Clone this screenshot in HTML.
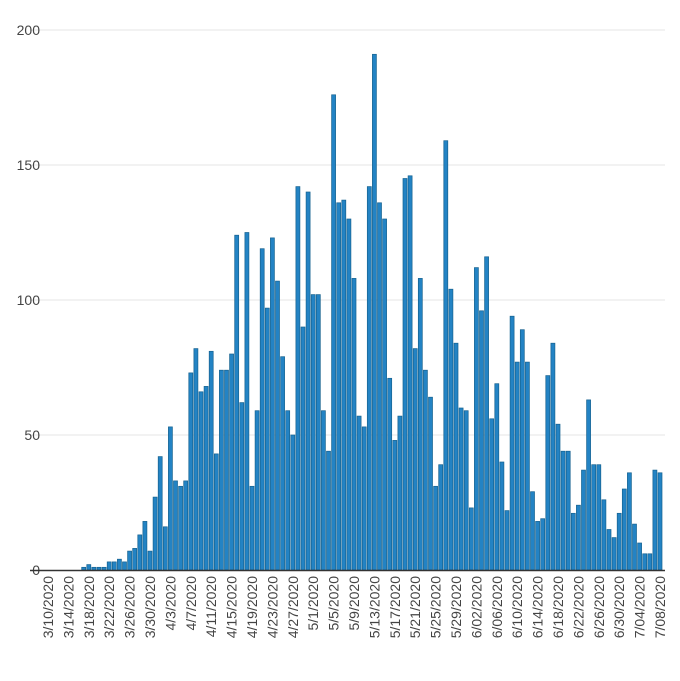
<!DOCTYPE html>
<html><head><meta charset="utf-8"><style>
body{margin:0;background:#fff;font-family:"Liberation Sans",sans-serif}
</style></head><body>
<svg id="chart" width="680" height="676" xmlns="http://www.w3.org/2000/svg"></svg>
<script>
const startLabel = "3/10/2020";
const values = [0,0,0,0,0,0,0,1,2,1,1,1,3,3,4,3,7,8,13,18,7,27,42,16,53,33,31,33,73,82,66,68,81,43,74,74,80,124,62,125,31,59,119,97,123,107,79,59,50,142,90,140,102,102,59,44,176,136,137,130,108,57,53,142,191,136,130,71,48,57,145,146,82,108,74,64,31,39,159,104,84,60,59,23,112,96,116,56,69,40,22,94,77,89,77,29,18,19,72,84,54,44,44,21,24,37,63,39,39,26,15,12,21,30,36,17,10,6,6,37,36];
const tickLabels = ["3/10/2020","3/14/2020","3/18/2020","3/22/2020","3/26/2020","3/30/2020","4/3/2020","4/7/2020","4/11/2020","4/15/2020","4/19/2020","4/23/2020","4/27/2020","5/1/2020","5/5/2020","5/9/2020","5/13/2020","5/17/2020","5/21/2020","5/25/2020","5/29/2020","6/02/2020","6/06/2020","6/10/2020","6/14/2020","6/18/2020","6/22/2020","6/26/2020","6/30/2020","7/04/2020","7/08/2020"];
const yTicks = [0,50,100,150,200];

const svg = document.getElementById('chart');
const NS = "http://www.w3.org/2000/svg";
const x = i => 48 + i * 5.1;
const y = v => 570 - v * 2.7;
function mk(t, a){const e=document.createElementNS(NS,t);for(const k in a)e.setAttribute(k,a[k]);svg.appendChild(e);return e;}

yTicks.forEach(v=>{
  if(v>0){const g=mk('line',{x1:30,x2:665,y1:y(v),y2:y(v),stroke:'#e6e6e6','stroke-width':1});
  
  }
  const t=mk('text',{x:40,y:y(v)+5,'text-anchor':'end','font-size':14,fill:'#444'});
  t.textContent=v;
  
  
});
values.forEach((v,i)=>{
  if(v<=0)return;
  const r=mk('rect',{x:x(i)-2,y:y(v),width:4,height:570-y(v),fill:'#2383c4',stroke:'#16628f','stroke-width':0.7});
  
  
});
const ax=mk('line',{x1:30,x2:665,y1:570.5,y2:570.5,stroke:'#333','stroke-width':1.5});


tickLabels.forEach((s,k)=>{
  const cx=x(k*4)+5;
  const t=mk('text',{x:0,y:0,'text-anchor':'end','font-size':14,fill:'#444',transform:`translate(${cx},576) rotate(-90)`});
  t.textContent=s;
  
  
});
</script>
</body></html>
